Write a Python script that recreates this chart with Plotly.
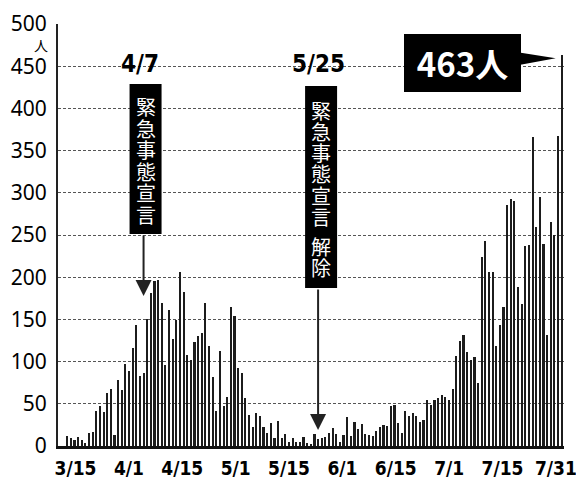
import plotly.graph_objects as go
import pandas as pd
import numpy as np

# ---- data: Tokyo daily new cases, 2020-03-15 .. 2020-07-31 ----
start_date = "2020-03-15"
end_date = "2020-07-31"
mar = [0, 0, 12, 9, 7, 11, 7, 3, 16, 17, 41, 47, 40, 63, 68, 13, 78]
apr = [66, 97, 89, 116, 143, 83, 87, 150, 181, 195, 197, 170, 96, 161, 127, 149,
       206, 183, 108, 102, 123, 130, 134, 170, 119, 82, 41, 113, 47, 58]
may = [165, 154, 93, 87, 57, 37, 23, 39, 36, 22, 15, 27, 10, 30, 9, 14, 5, 10, 5, 5,
       11, 3, 2, 14, 8, 10, 11, 15, 21, 14, 5]
jun = [13, 34, 12, 28, 20, 26, 14, 13, 12, 18, 22, 25, 24, 47, 48, 27, 16, 41, 35, 39,
       35, 29, 31, 55, 48, 54, 57, 60, 58, 54]
jul = [67, 107, 124, 131, 111, 102, 106, 75, 224, 243, 206, 206, 119, 143, 165, 286,
       293, 290, 188, 168, 237, 238, 366, 260, 295, 239, 131, 266, 250, 367, 463]
cases = mar + apr + may + jun + jul
dates = pd.date_range(start_date, end_date, freq="D")

tick_labels = ["3/15", "4/1", "4/15", "5/1", "5/15", "6/1", "6/15", "7/1", "7/15", "7/31"]
y_ticks = list(range(0, 501, 50))

event_dates = ["2020-04-07", "2020-05-25"]
event_labels = ["4/7", "5/25"]
event_texts = ["緊急事態宣言", "緊急事態宣言解除"]
peak_label = "463人"
unit_label = "人"

# ---- layout helpers ----
W, H = 576, 479
M_L, M_R, M_T, M_B = 58, 12, 24, 33
Y_MAX = 500
PLOT_H = H - M_T - M_B
DAY = pd.Timedelta(days=1)


def yv(py):
    """value on the y axis at a given pixel row of the page"""
    return (H - M_B - py) * Y_MAX / PLOT_H


# the date labels are set out evenly along the axis, as in the original
tick_pos = [dates[0] + float(o) * DAY for o in np.linspace(4.3, 136.4, len(tick_labels))]

fig = go.Figure()
fig.add_trace(go.Bar(
    x=dates, y=cases,
    width=0.58 * 86400000,
    marker=dict(color="#1c1c1c", line=dict(width=0)),
    hoverinfo="x+y",
))

cond_bold = dict(family="DejaVu Sans Condensed, Liberation Sans Narrow, Arial Narrow, sans-serif",
                 weight="bold", color="black")
cjk = "Noto Sans CJK JP, Noto Sans CJK SC, sans-serif"

annotations = []
shapes = []

# event labels, vertical boxes and arrows (pixel rows of the layout)
box_specs = [
    dict(xshift=2, top=84, bottom=234, tip=296, label_shift=-4,
         centers=[106.7 + 21.5 * i for i in range(6)]),
    dict(xshift=3, top=86, bottom=288, tip=430, label_shift=0,
         centers=[110 + 21.3 * i for i in range(6)] + [246.7, 267.4]),
]
for d, lab, txt, sp in zip(event_dates, event_labels, event_texts, box_specs):
    annotations.append(dict(
        x=d, y=yv(64), xref="x", yref="y", text=lab, showarrow=False,
        xshift=sp["label_shift"], font=dict(size=24, **cond_bold)))
    shapes.append(dict(
        type="rect", xref="x", yref="y", xsizemode="pixel", xanchor=d,
        x0=-16 + sp["xshift"], x1=16 + sp["xshift"],
        y0=yv(sp["bottom"]), y1=yv(sp["top"]),
        fillcolor="black", line=dict(width=0), layer="above"))
    for ch, cy in zip(txt, sp["centers"]):
        annotations.append(dict(
            x=d, y=yv(cy), xref="x", yref="y", text=ch, showarrow=False,
            xshift=sp["xshift"], yanchor="middle", height=21, valign="middle",
            borderpad=0, borderwidth=0,
            font=dict(family=cjk, size=20, color="white")))
    annotations.append(dict(
        x=d, y=yv(sp["tip"]), xref="x", yref="y",
        ax=d, ay=yv(sp["bottom"]), axref="x", ayref="y",
        text="", showarrow=True, arrowhead=2, arrowsize=1.6, arrowwidth=2,
        arrowcolor="#222"))

# peak box
annotations.append(dict(
    x=(462.4 - M_L) / (W - M_L - M_R), y=yv(62.5), xref="paper", yref="y",
    xanchor="center", yanchor="middle",
    text=peak_label, showarrow=False, width=117, height=58, bgcolor="black",
    borderpad=0, borderwidth=0,
    font=dict(family=cjk, size=33, weight="bold", color="white")))
# wedge pointing to the last bar
shapes.append(dict(
    type="path", xref="x", yref="y", xsizemode="pixel", ysizemode="pixel",
    xanchor=str(dates[-1].date()), yanchor=cases[-1],
    path="M-44,3 L-44,-10 L-6,-3 Z", fillcolor="black", line=dict(width=0)))

# unit label
annotations.append(dict(
    x=0, y=yv(44.5), xref="paper", yref="y", xanchor="right", xshift=-8,
    text=unit_label, showarrow=False, height=16, valign="middle",
    font=dict(family=cjk, size=14, color="black")))

fig.update_layout(
    width=W, height=H,
    margin=dict(l=M_L, r=M_R, t=M_T, b=M_B, pad=0, autoexpand=False),
    paper_bgcolor="white", plot_bgcolor="white",
    showlegend=False, bargap=0,
    annotations=annotations, shapes=shapes,
    xaxis=dict(
        type="date", automargin=False,
        range=[dates[0] - 0.53 * DAY, dates[-1] + 0.63 * DAY],
        showgrid=False, zeroline=False,
        showline=True, linecolor="#111", linewidth=2.5,
        tickvals=tick_pos, ticktext=tick_labels,
        ticks="", ticklabelstandoff=3, ticklabeloverflow="allow",
        tickfont=dict(size=19, **cond_bold),
    ),
    yaxis=dict(
        range=[0, Y_MAX], tickvals=y_ticks, automargin=False,
        showgrid=True, gridcolor="#555", gridwidth=1, griddash="3px,2px",
        zeroline=False, showline=True, linecolor="#222", linewidth=2,
        ticks="", ticklabelstandoff=5,
        tickfont=dict(family="Noto Sans, Open Sans, sans-serif", size=21, color="black"),
    ),
)

fig.write_html(
    "out.html",
    config={"displayModeBar": False},
    post_script="document.body.style.margin='0px';document.body.style.overflow='hidden';",
)
